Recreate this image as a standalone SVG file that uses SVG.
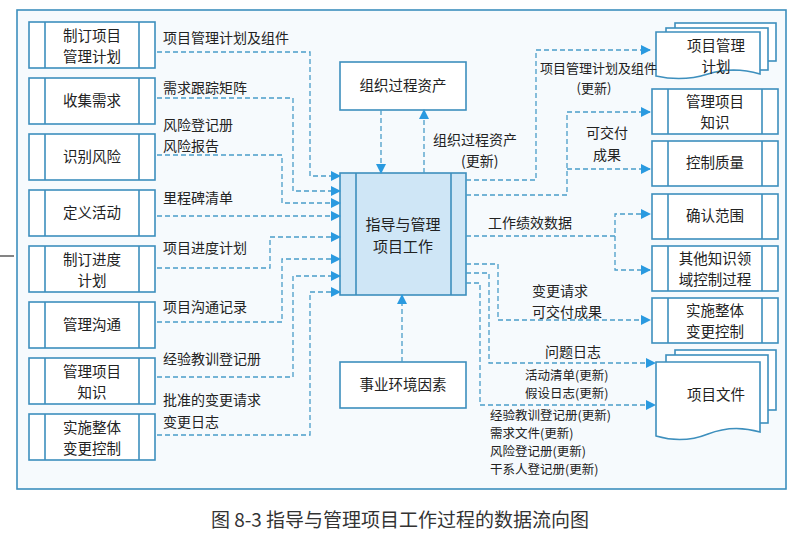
<svg xmlns="http://www.w3.org/2000/svg" width="799" height="550" viewBox="0 0 799 550">
<style>
text{font-family:"Noto Sans CJK SC","Liberation Sans",sans-serif;fill:#222;}
.lb{font-size:14px;}
.sm{font-size:12.5px;}
.nt{font-size:14.5px;text-anchor:middle;}
.bx{fill:#fff;stroke:#3d8fbd;stroke-width:1.6;}
.ln{fill:none;stroke:#3d8fbd;stroke-width:1.6;}
.c{fill:none;stroke:#4a9dc9;stroke-width:1.3;stroke-dasharray:5,3;}
</style>
<defs><marker id="a" markerWidth="10" markerHeight="10" refX="9" refY="5" orient="auto" markerUnits="userSpaceOnUse"><path d="M0,0 L10,5 L0,10Z" fill="#2a9ae0"/></marker></defs>
<rect width="799" height="550" fill="#fff"/>
<rect x="17" y="10" width="769" height="479" fill="#f6fafd" stroke="#3d8fbd" stroke-width="1.6"/>
<line x1="0" y1="256" x2="14" y2="256" stroke="#333" stroke-width="1.2"/>
<g id="l1"><rect class="bx" x="29" y="22" width="126" height="46"/><path class="ln" d="M45 22V68M139 22V68"/><text class="nt" x="92" y="41">制订项目</text><text class="nt" x="92" y="62">管理计划</text></g>
<g id="l2"><rect class="bx" x="29" y="78" width="126" height="46"/><path class="ln" d="M45 78V124M139 78V124"/><text class="nt" x="92" y="106">收集需求</text></g>
<g id="l3"><rect class="bx" x="29" y="134" width="126" height="46"/><path class="ln" d="M45 134V180M139 134V180"/><text class="nt" x="92" y="162">识别风险</text></g>
<g id="l4"><rect class="bx" x="29" y="190" width="126" height="46"/><path class="ln" d="M45 190V236M139 190V236"/><text class="nt" x="92" y="218">定义活动</text></g>
<g id="l5"><rect class="bx" x="29" y="246" width="126" height="46"/><path class="ln" d="M45 246V292M139 246V292"/><text class="nt" x="92" y="265">制订进度</text><text class="nt" x="92" y="286">计划</text></g>
<g id="l6"><rect class="bx" x="29" y="302" width="126" height="46"/><path class="ln" d="M45 302V348M139 302V348"/><text class="nt" x="92" y="330">管理沟通</text></g>
<g id="l7"><rect class="bx" x="29" y="358" width="126" height="46"/><path class="ln" d="M45 358V404M139 358V404"/><text class="nt" x="92" y="377">管理项目</text><text class="nt" x="92" y="398">知识</text></g>
<g id="l8"><rect class="bx" x="29" y="414" width="126" height="46"/><path class="ln" d="M45 414V460M139 414V460"/><text class="nt" x="92" y="433">实施整体</text><text class="nt" x="92" y="454">变更控制</text></g>
<g id="center"><rect x="340" y="173" width="126" height="122" fill="#cfe6f6" stroke="#3d8fbd" stroke-width="1.6"/><path class="ln" d="M356 173V295M451 173V295"/><text class="nt" x="403" y="230" style="font-size:15px">指导与管理</text><text class="nt" x="403" y="252" style="font-size:15px">项目工作</text></g>
<g id="opa"><rect class="bx" x="340" y="62" width="126" height="48"/><text class="nt" x="403" y="91">组织过程资产</text></g>
<g id="eef"><rect class="bx" x="340" y="362" width="126" height="46"/><text class="nt" x="403" y="390">事业环境因素</text></g>
<g id="pmp"><rect class="bx" x="675" y="23" width="101" height="38"/><rect class="bx" x="666" y="28" width="102" height="42"/><path class="bx" d="M656 32H760V74Q733 66 708 74T656 76Z"/><text class="nt" x="716" y="51">项目管理</text><text class="nt" x="716" y="72">计划</text></g>
<g id="r1"><rect class="bx" x="652" y="89" width="126" height="45"/><path class="ln" d="M668 89V134M762 89V134"/><text class="nt" x="715" y="107">管理项目</text><text class="nt" x="715" y="128">知识</text></g>
<g id="r2"><rect class="bx" x="652" y="141" width="126" height="45"/><path class="ln" d="M668 141V186M762 141V186"/><text class="nt" x="715" y="168">控制质量</text></g>
<g id="r3"><rect class="bx" x="652" y="194" width="126" height="45"/><path class="ln" d="M668 194V239M762 194V239"/><text class="nt" x="715" y="221">确认范围</text></g>
<g id="r4"><rect class="bx" x="652" y="246" width="126" height="45"/><path class="ln" d="M668 246V291M762 246V291"/><text class="nt" x="715" y="264">其他知识领</text><text class="nt" x="715" y="285">域控制过程</text></g>
<g id="r5"><rect class="bx" x="652" y="298" width="126" height="45"/><path class="ln" d="M668 298V343M762 298V343"/><text class="nt" x="715" y="316">实施整体</text><text class="nt" x="715" y="337">变更控制</text></g>
<g id="pd"><rect class="bx" x="675" y="350" width="101" height="60"/><rect class="bx" x="666" y="355" width="102" height="68"/><path class="bx" d="M656 362H760V432Q733 424 708 434T656 436Z"/><text class="nt" x="716" y="400">项目文件</text></g>
<g id="connectors">
<path class="c" marker-end="url(#a)" d="M157 52H310V176H340"/>
<path class="c" marker-end="url(#a)" d="M157 98H293V191H340"/>
<path class="c" marker-end="url(#a)" d="M157 155H282V203H340"/>
<path class="c" marker-end="url(#a)" d="M157 216H340"/>
<path class="c" marker-end="url(#a)" d="M157 268H270V237H340"/>
<path class="c" marker-end="url(#a)" d="M157 322H282V259H340"/>
<path class="c" marker-end="url(#a)" d="M157 377H293V276H340"/>
<path class="c" marker-end="url(#a)" d="M157 435H310V292H340"/>
<path class="c" marker-end="url(#a)" d="M381 110V173"/>
<path class="c" marker-end="url(#a)" d="M424 173V110"/>
<path class="c" marker-end="url(#a)" d="M402 362V295"/>
<path class="c" marker-end="url(#a)" d="M466 180H536V50H650"/>
<path class="c" marker-end="url(#a)" d="M466 195H567V112H650"/>
<path class="c" marker-end="url(#a)" d="M567 169H650"/>
<path class="c" marker-end="url(#a)" d="M466 236H615V214H650"/>
<path class="c" marker-end="url(#a)" d="M615 236V270H650"/>
<path class="c" marker-end="url(#a)" d="M466 264H498V320H650"/>
<path class="c" marker-end="url(#a)" d="M466 273H489V363H655"/>
<path class="c" marker-end="url(#a)" d="M466 283H480V405H655"/>
</g>
<g id="labels">
<text class="lb" x="163" y="43">项目管理计划及组件</text>
<text class="lb" x="163" y="93">需求跟踪矩阵</text>
<text class="lb" x="163" y="130">风险登记册</text>
<text class="lb" x="163" y="151">风险报告</text>
<text class="lb" x="163" y="203">里程碑清单</text>
<text class="lb" x="163" y="253">项目进度计划</text>
<text class="lb" x="163" y="312">项目沟通记录</text>
<text class="lb" x="163" y="364">经验教训登记册</text>
<text class="lb" x="163" y="405">批准的变更请求</text>
<text class="lb" x="163" y="427">变更日志</text>
<text class="lb" x="433" y="145">组织过程资产</text>
<text class="lb" x="461" y="166">(更新)</text>
<text x="540" y="73" style="font-size:13px">项目管理计划及组件</text>
<text x="594" y="93" style="font-size:13px;text-anchor:middle">(更新)</text>
<text class="lb" x="607" y="138" text-anchor="middle">可交付</text>
<text class="lb" x="607" y="160" text-anchor="middle">成果</text>
<text class="lb" x="488" y="228">工作绩效数据</text>
<text class="lb" x="532" y="296">变更请求</text>
<text class="lb" x="532" y="317">可交付成果</text>
<text class="lb" x="545" y="357">问题日志</text>
<text class="sm" x="525" y="380">活动清单(更新)</text>
<text class="sm" x="525" y="398">假设日志(更新)</text>
<text class="sm" x="490" y="420">经验教训登记册(更新)</text>
<text class="sm" x="490" y="438">需求文件(更新)</text>
<text class="sm" x="490" y="456">风险登记册(更新)</text>
<text class="sm" x="490" y="474">干系人登记册(更新)</text>
</g>
<text x="400" y="527" style="font-size:19px;text-anchor:middle;fill:#333">图 8-3 指导与管理项目工作过程的数据流向图</text>
</svg>
